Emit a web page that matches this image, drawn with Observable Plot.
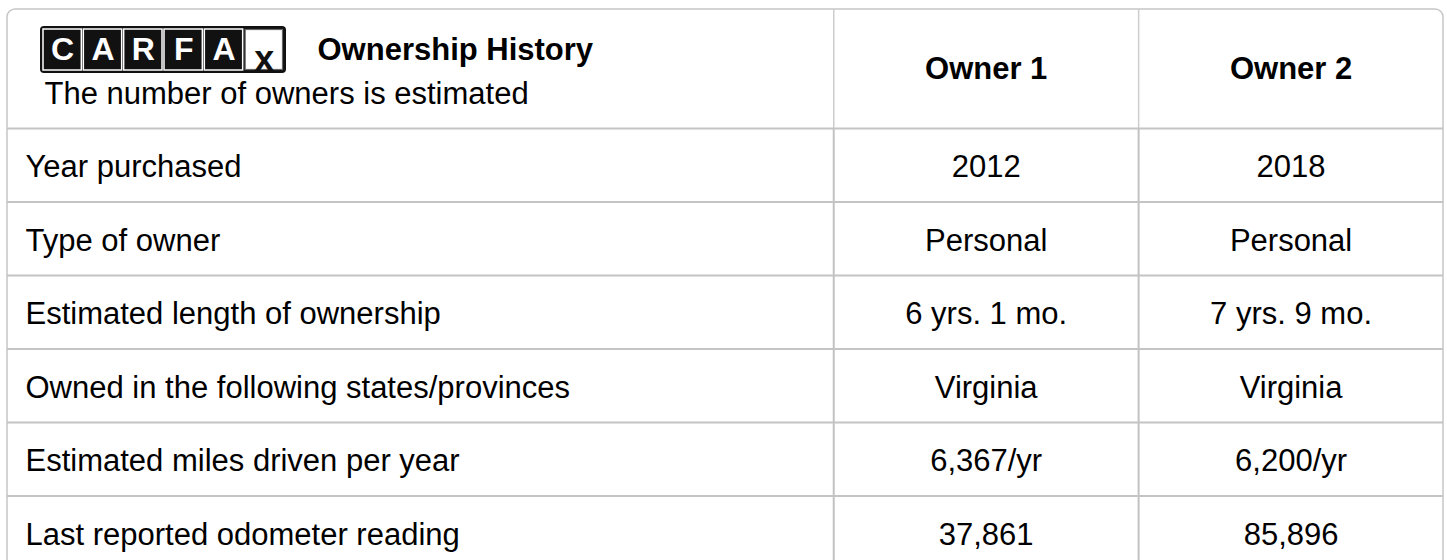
<!DOCTYPE html>
<html><head><meta charset="utf-8">
<script src="https://cdn.jsdelivr.net/npm/d3@7"></script>
<script src="https://cdn.jsdelivr.net/npm/@observablehq/plot@0.6"></script>
<style>
html,body{margin:0;padding:0;background:#fff;overflow:hidden;}
#chart svg{overflow:hidden !important;display:block;}
</style></head><body><div id="chart"></div>
<script>
// ---- data ----
const rowLabels = ["Year purchased", "Type of owner", "Estimated length of ownership", "Owned in the following states/provinces", "Estimated miles driven per year", "Last reported odometer reading"];
const ownerLabels = ["Owner 1", "Owner 2"];
const owner1Values = ["2012", "Personal", "6 yrs. 1 mo.", "Virginia", "6,367/yr", "37,861"];
const owner2Values = ["2018", "Personal", "7 yrs. 9 mo.", "Virginia", "6,200/yr", "85,896"];
const logoLetters = ["C", "A", "R", "F", "A"];
const logoTail = ["x"];
const titleText = ["Ownership History"];
const subtitleText = ["The number of owners is estimated"];

// ---- layout ----
const W = 1447, H = 560;
const colEdges = [0, 2.71, 3.71, 4.71];
const headerUnits = 1.62;
const tableLeft = 7, tableRight = 1443, tableTop = 9, rowPx = 73.5;
const unitPx = (tableRight - tableLeft) / colEdges[3];
const xu = px => (px - tableLeft) / unitPx;
const yu = px => (px - tableTop) / rowPx - headerUnits;
const colCenter = c => (colEdges[c] + colEdges[c + 1]) / 2;
const yBottom = rowLabels.length + 0.3;
const FONT = "'Liberation Sans', Arial, Helvetica, sans-serif";
const FS = 31;

const valueCells = rowLabels.flatMap((r, i) => [
  {col: 1, row: i, text: owner1Values[i]},
  {col: 2, row: i, text: owner2Values[i]}
]);

const logoLeft = 40, logoRight = 286, logoTop = 26, logoBottom = 73;
const boxW = (logoRight - logoLeft - 4) / 6;

const chart = Plot.plot({
  width: W, height: H,
  margin: 0,
  style: {fontFamily: FONT, background: "white", overflow: "hidden"},
  x: {domain: [0, colEdges[3]], range: [tableLeft, tableRight], axis: null},
  y: {domain: [-headerUnits, yBottom], range: [tableTop, tableTop + (headerUnits + yBottom) * rowPx], axis: null},
  marks: [
    // table frame
    Plot.rect([0], {x1: colEdges[0], x2: colEdges[3], y1: -headerUnits, y2: yBottom + 1, rx: 8, fill: "white", stroke: "#c6c6c6", strokeWidth: 1.5}),
    // header column dividers
    Plot.ruleX(colEdges.slice(1, 3), {y1: -headerUnits, y2: 0, stroke: "#cccccc", strokeWidth: 1.5}),
    // body column dividers
    Plot.ruleX(colEdges.slice(1, 3), {y1: 0, y2: yBottom + 1, stroke: "#c2c2c2", strokeWidth: 2}),
    // row separators
    Plot.ruleY(d3.range(0, rowLabels.length), {x1: colEdges[0], x2: colEdges[3], stroke: "#c4c4c4", strokeWidth: 2}),
    // logo
    Plot.rect([0], {x1: xu(logoLeft), x2: xu(logoRight), y1: yu(logoTop), y2: yu(logoBottom), fill: "#111", rx: 4}),
    Plot.rect(logoLetters, {x1: (d, i) => xu(logoLeft + 2 + i * boxW), x2: (d, i) => xu(logoLeft + 2 + (i + 1) * boxW), y1: yu(logoTop + 2), y2: yu(logoBottom - 2), fill: "#111", stroke: "white", strokeWidth: 1.5, inset: 1}),
    Plot.rect(logoTail, {x1: xu(logoLeft + 2 + 5 * boxW), x2: xu(logoLeft + 2 + 6 * boxW), y1: yu(logoTop + 2), y2: yu(logoBottom - 2), fill: "white", stroke: "#666", strokeWidth: 1.2, inset: 1.5}),
    Plot.text(logoLetters, {x: (d, i) => xu(logoLeft + 2 + (i + 0.5) * boxW), y: yu(49), text: d => d, fill: "white", fontWeight: 900, fontSize: 32}),
    Plot.text(logoTail, {x: xu(logoLeft + 2 + 5.5 * boxW), y: yu(59), text: d => d, fill: "#111", fontWeight: 900, fontSize: 36}),
    // title + subtitle
    Plot.text(titleText, {x: xu(317), y: yu(50), text: d => d, textAnchor: "start", fontWeight: "bold", fontSize: FS, fill: "#000"}),
    Plot.text(subtitleText, {x: xu(44), y: yu(94), text: d => d, textAnchor: "start", fontSize: FS, fill: "#000"}),
    // owner headers
    Plot.text(ownerLabels, {x: (d, i) => colCenter(i + 1), y: -headerUnits / 2, text: d => d, fontWeight: "bold", fontSize: FS, fill: "#000"}),
    // row labels
    Plot.text(rowLabels, {x: colEdges[0], dx: 18, dy: 2, y: (d, i) => i + 0.5, text: d => d, textAnchor: "start", fontSize: FS, fill: "#000"}),
    // values
    Plot.text(valueCells, {x: d => colCenter(d.col), y: d => d.row + 0.5, dy: 2, text: "text", fontSize: FS, fill: "#000"})
  ]
});
document.getElementById("chart").appendChild(chart);
</script></body></html>
